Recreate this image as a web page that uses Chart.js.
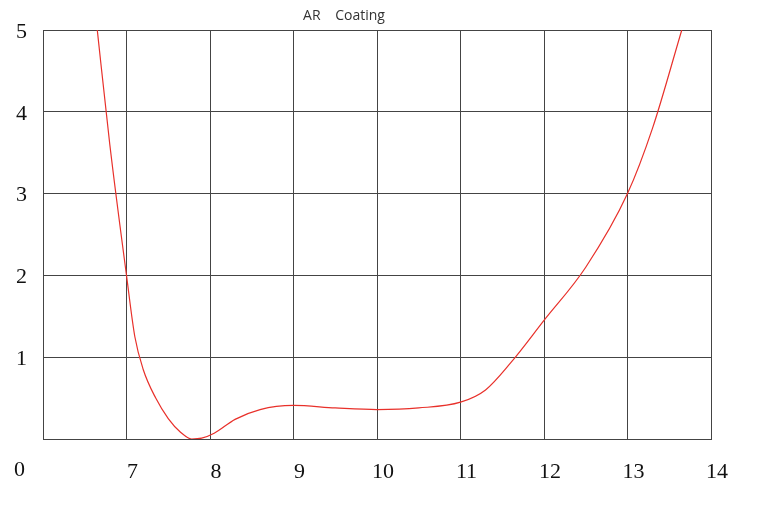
<!DOCTYPE html>
<html><head><meta charset="utf-8">
<script src="https://cdn.jsdelivr.net/npm/chart.js@4"></script>
<style>
html,body{margin:0;padding:0;background:#fff;}
#wrap{position:relative;width:777px;height:520px;}
#title{position:absolute;left:0;width:688px;top:5px;text-align:center;font:14px "Open Sans",sans-serif;color:#333;white-space:pre;}
#zero{position:absolute;left:14px;top:456px;font:22px "Liberation Serif",serif;color:#111;}
</style></head><body>
<div id="wrap"><canvas id="c" width="777" height="520"></canvas>
<div id="title">AR    Coating</div><div id="zero">0</div></div>
<script>
const wavelength = [6.65,6.8,7,7.1,7.2,7.35,7.5,7.65,7.78,7.9,8.05,8.3,8.6,9,9.5,10,10.5,11,11.3,11.6,12,12.5,13,13.3,13.65];
const reflectance = [5,3.6,2.0,1.25,0.85,0.5,0.25,0.08,0.0,0.01,0.07,0.24,0.36,0.41,0.38,0.36,0.38,0.45,0.6,0.93,1.45,2.1,3.0,3.8,5.0];
const xTicks = [7,8,9,10,11,12,13,14];
const yTicks = [1,2,3,4,5];
new Chart(document.getElementById('c'),{
 type:'line',
 data:{datasets:[{data:wavelength.map((x,i)=>({x,y:reflectance[i]})),borderColor:'#e8302a',borderWidth:1.2,pointRadius:0,tension:0.4,cubicInterpolationMode:'monotone',fill:false}]},
 options:{responsive:false,animation:false,
  layout:{padding:{top:30,right:66,left:0,bottom:0}},
  plugins:{legend:{display:false},tooltip:{enabled:false}},
  scales:{
   x:{type:'linear',min:6,max:14,
      afterBuildTicks:s=>{s.ticks=[6].concat(xTicks).map(v=>({value:v}));},
      afterFit:s=>{s.height=81;},
      grid:{color:'#444',drawTicks:false,lineWidth:1},border:{color:'#444'},
      ticks:{padding:20,labelOffset:6,color:'#111',font:{family:'"Liberation Serif",serif',size:22},callback:v=>v===6?'':v}},
   y:{min:0,max:5,
      afterBuildTicks:s=>{s.ticks=[0].concat(yTicks).map(v=>({value:v}));},
      afterFit:s=>{s.width=43;},
      grid:{color:'#444',drawTicks:false,lineWidth:1},border:{color:'#444'},
      ticks:{padding:16,labelOffset:2,color:'#111',font:{family:'"Liberation Serif",serif',size:22},callback:v=>v===0?'':v}}
  }}
});
</script></body></html>
